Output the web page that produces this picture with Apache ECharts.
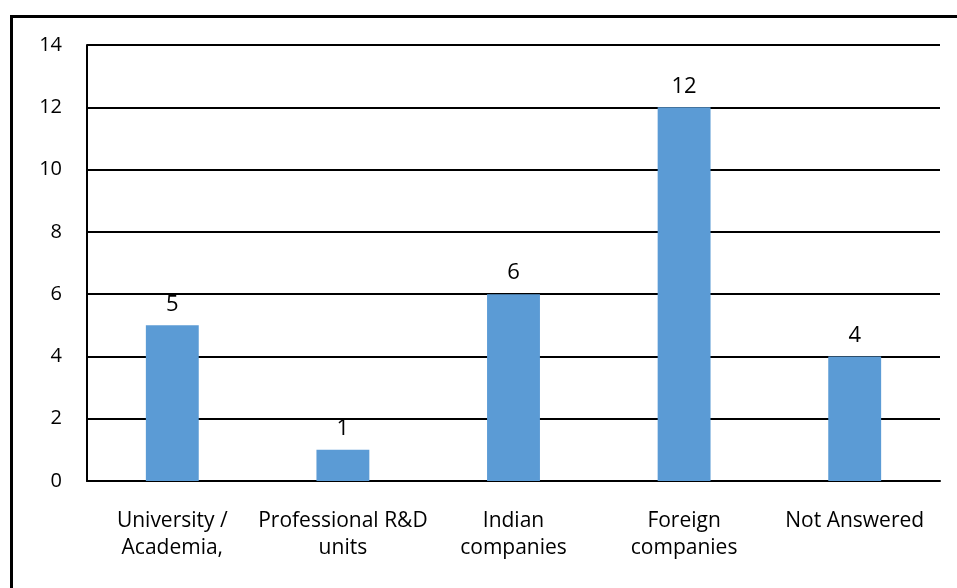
<!DOCTYPE html>
<html><head><meta charset="utf-8">
<script src="https://cdn.jsdelivr.net/npm/echarts@6/dist/echarts.min.js"></script>
<style>html,body{margin:0;padding:0;background:#fff}#c{width:957px;height:588px}</style>
</head><body><div id="c"></div>
<script>
const categories = ["University /\nAcademia,", "Professional R&D\nunits", "Indian\ncompanies", "Foreign\ncompanies", "Not Answered"];
const values = [5, 1, 6, 12, 4];
const yTicks = [0, 2, 4, 6, 8, 10, 12, 14];

const chart = echarts.init(document.getElementById('c'), null, {renderer: 'canvas'});
const font = "'Open Sans', 'Noto Sans', 'Liberation Sans', sans-serif";
chart.setOption({
  animation: false,
  backgroundColor: '#fff',
  graphic: [{
    type: 'polyline',
    shape: {points: [[11.5, 600], [11.5, 16.5], [970, 16.5]]},
    style: {stroke: '#000', lineWidth: 3, fill: null}
  }],
  grid: {left: 87, right: 17, top: 45, bottom: 107, containLabel: false},
  xAxis: {
    type: 'category',
    data: categories,
    axisLine: {show: true, lineStyle: {color: '#000', width: 2}},
    axisTick: {show: false},
    axisLabel: {color: '#000', fontSize: 21, fontFamily: font, lineHeight: 27, margin: 27, interval: 0}
  },
  yAxis: {
    type: 'value',
    min: yTicks[0], max: yTicks[yTicks.length - 1], interval: 2,
    axisLine: {show: true, lineStyle: {color: '#000', width: 2}},
    axisTick: {show: false},
    splitLine: {show: true, lineStyle: {color: '#000', width: 2}},
    axisLabel: {color: '#000', fontSize: 20, fontFamily: font, margin: 25}
  },
  series: [{
    type: 'bar',
    data: values,
    barWidth: '31%',
    itemStyle: {color: '#5B9BD5'},
    label: {show: true, position: 'top', distance: 10, color: '#000', fontSize: 22, fontFamily: font}
  }]
});
</script></body></html>
